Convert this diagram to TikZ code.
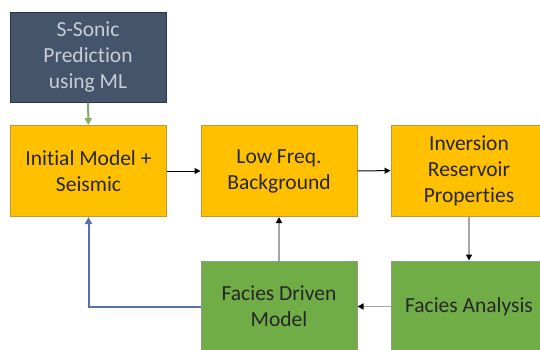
\documentclass[tikz,border=0pt]{standalone}
\usepackage{fontspec}
\setmainfont{Carlito}[RawFeature=-liga, RawFeature=-clig, RawFeature=-calt]
\usetikzlibrary{arrows.meta}
\definecolor{slatebox}{HTML}{44546A}
\definecolor{slateedge}{HTML}{2B3442}
\definecolor{slatetext}{HTML}{C9CED6}
\definecolor{orangebox}{HTML}{FFC000}
\definecolor{orangeedge}{HTML}{C09A2E}
\definecolor{greenbox}{HTML}{70AD47}
\definecolor{greenedge}{HTML}{8E9E86}
\definecolor{boxtext}{HTML}{262626}
\definecolor{linkgray}{HTML}{A6A6A6}
\definecolor{linkblue}{HTML}{5473AE}
\definecolor{linkgreen}{HTML}{7FAE62}
\tikzset{
  box/.style={rectangle, minimum width=156pt, minimum height=91pt, inner sep=2pt,
    align=center, font=\fontsize{21.5}{26}\selectfont, text=boxtext, line width=1pt},
  orangestep/.style={box, fill=orangebox, draw=orangeedge},
  greenstep/.style={box, fill=greenbox, draw=greenedge},
  slatestep/.style={box, fill=slatebox, draw=slateedge, text=slatetext},
  blacklink/.style={-{Triangle[length=6pt,width=6pt]}, draw=black, line width=1pt},
  graylink/.style={-{Triangle[length=6pt,width=6pt,color=black]}, draw=linkgray, line width=1.6pt},
  bluelink/.style={-{Triangle[length=7pt,width=7pt]}, draw=linkblue, line width=2pt},
  greenlink/.style={-{Triangle[length=7pt,width=7pt]}, draw=linkgreen, line width=2pt},
}
\begin{document}
\begin{tikzpicture}[x=1pt,y=-1pt]
\useasboundingbox (0,0) rectangle (540,349);
\clip (0,0) rectangle (540,349);
\node[slatestep, minimum height=90pt] (ss) at (88,57) {S-Sonic\\Prediction\\using ML};
\node[orangestep] (init) at (88.5,171) {Initial Model +\\Seismic};
\node[orangestep] (low) at (279,171) {Low Freq.\\Background};
\node[orangestep] (inv) at (469,170.5) {Inversion\\Reservoir\\Properties};
\node[greenstep] (fdm) at (279,306.5) {Facies Driven\\Model};
\node[greenstep] (fa) at (469,306.5) {Facies Analysis};
\draw[greenlink] (ss) -- (init);
\draw[blacklink] (init) -- (low);
\draw[blacklink] (low) -- (inv);
\draw[graylink] (inv) -- (fa);
\draw[graylink] (fa) -- (fdm);
\draw[graylink] (fdm) -- (low);
\draw[bluelink] (fdm.west) -| (init.south);
\end{tikzpicture}
\end{document}
